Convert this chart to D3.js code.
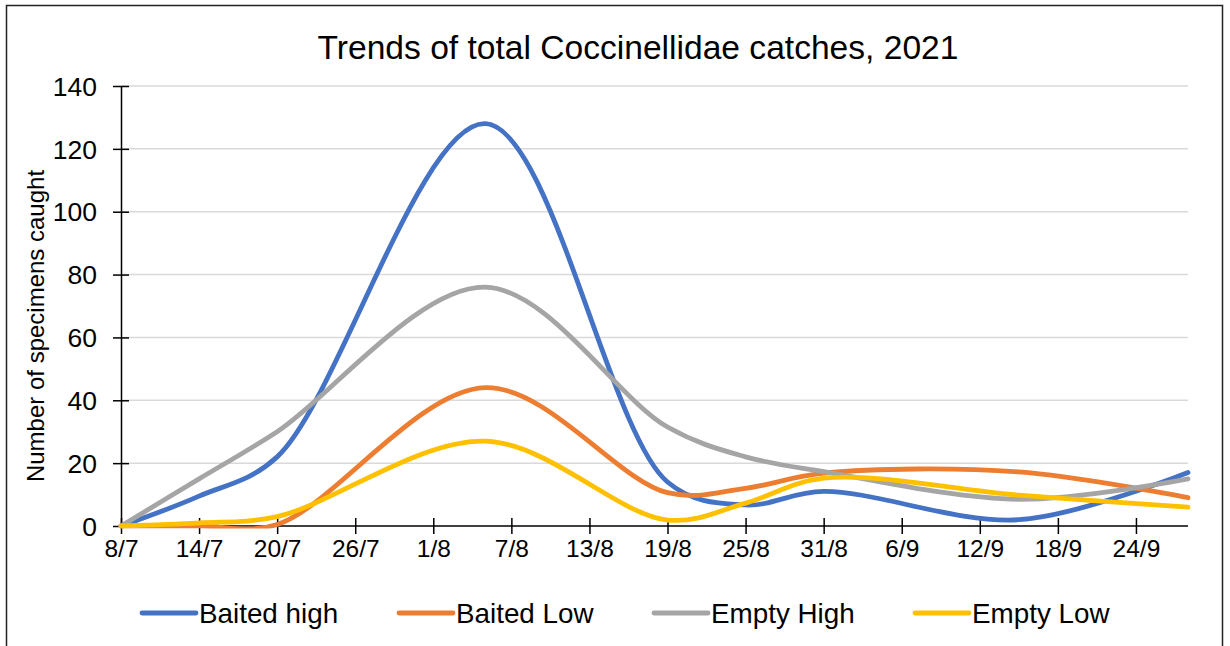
<!DOCTYPE html>
<html>
<head>
<meta charset="utf-8">
<script src="https://cdn.jsdelivr.net/npm/d3@7"></script>
<style>
  html, body { margin: 0; padding: 0; background: #fff; }
  svg { display: block; font-family: Arial, "Liberation Sans", sans-serif; }
</style>
</head>
<body>
<svg id="chart" width="1230" height="646"></svg>
<script>
// ---- data ----
const dates = ["2021-07-08", "2021-07-14", "2021-07-20", "2021-08-05", "2021-08-19", "2021-08-25", "2021-08-31", "2021-09-15", "2021-09-28"];
const baitedHigh = [0, 9.5, 22, 128, 14, 6.7, 11, 2, 17];
const baitedLow  = [0, 0, 0.5, 44, 10.6, 12, 16.8, 17.2, 9];
const emptyHigh  = [0, 15, 30, 76, 31.5, 22, 17.3, 8.5, 15];
const emptyLow   = [0, 1, 3, 27, 1.9, 7.3, 15.2, 9.8, 6];
const seriesNames = ["Baited high", "Baited Low", "Empty High", "Empty Low"];
const xTickDates = ["2021-07-08","2021-07-14","2021-07-20","2021-07-26","2021-08-01","2021-08-07","2021-08-13","2021-08-19","2021-08-25","2021-08-31","2021-09-06","2021-09-12","2021-09-18","2021-09-24"];
const yTicks = [0, 20, 40, 60, 80, 100, 120, 140];
const titleText = "Trends of total Coccinellidae catches, 2021";
const yAxisTitle = "Number of specimens caught";

// ---- layout ----
const colors = ["#4472C4", "#ED7D31", "#A5A5A5", "#FFC000"];
const parse = d3.utcParse("%Y-%m-%d");
const fmt = d3.utcFormat("%-d/%-m");
const svg = d3.select("#chart");

const pLeft = 121, pRight = 1188, pTop = 86, pBottom = 526;
const x = d3.scaleUtc().domain([parse("2021-07-08"), parse("2021-09-28")]).range([pLeft, pRight]);
const y = d3.scaleLinear().domain([0, 140]).range([pBottom, pTop]);

// clip for series (Excel keeps lines inside the plot area)
svg.append("defs").append("clipPath").attr("id", "plotClip")
  .append("rect").attr("x", pLeft - 10).attr("y", pTop - 20)
  .attr("width", pRight - pLeft + 20).attr("height", pBottom - pTop + 22.5);

// outer frame
svg.append("rect").attr("x", 6.5).attr("y", 5.5).attr("width", 1216).attr("height", 660)
  .attr("fill", "none").attr("stroke", "#222").attr("stroke-width", 1.5);

// title
svg.append("text").attr("x", 638).attr("y", 59).attr("text-anchor", "middle")
  .attr("font-size", 33.6).attr("fill", "#000").text(titleText);

// gridlines
svg.append("g").selectAll("line").data(yTicks.filter(d => d > 0)).join("line")
  .attr("x1", pLeft).attr("x2", pRight)
  .attr("y1", d => y(d)).attr("y2", d => y(d))
  .attr("stroke", "#d9d9d9").attr("stroke-width", 1.5);

// y axis
const yAxis = svg.append("g").attr("transform", `translate(${pLeft},0)`)
  .call(d3.axisLeft(y).tickValues(yTicks).tickSize(8).tickSizeOuter(0));
yAxis.select(".domain").attr("stroke", "#000").attr("stroke-width", 1.5);
yAxis.selectAll(".tick line").attr("x1", -8).attr("x2", 8).attr("stroke", "#000").attr("stroke-width", 1.5);
yAxis.selectAll(".tick text").attr("font-size", 26.5).attr("font-family", "Arial, 'Liberation Sans', sans-serif").attr("fill", "#000").attr("x", -24).attr("dy", "0.35em");

// x axis
const xAxis = svg.append("g").attr("transform", `translate(0,${pBottom})`)
  .call(d3.axisBottom(x).tickValues(xTickDates.map(parse)).tickFormat(fmt).tickSize(8).tickSizeOuter(0));
xAxis.select(".domain").attr("stroke", "#000").attr("stroke-width", 1.5).attr("d", `M${pLeft},0H${pRight}`);
xAxis.selectAll(".tick line").attr("y1", -8).attr("y2", 8).attr("stroke", "#000").attr("stroke-width", 1.5);
xAxis.selectAll(".tick text").attr("font-size", 24.5).attr("font-family", "Arial, 'Liberation Sans', sans-serif").attr("fill", "#000").attr("y", 14).attr("dy", "0.71em");

// y axis title
svg.append("text").attr("transform", "translate(44,326) rotate(-90)")
  .attr("text-anchor", "middle").attr("font-size", 24).attr("fill", "#000").text(yAxisTitle);

// lines
const allSeries = [baitedHigh, baitedLow, emptyHigh, emptyLow];
const line = d3.line().x(d => x(d.date)).y(d => y(d.value)).curve(d3.curveCatmullRom.alpha(0.5));
const linesG = svg.append("g").attr("clip-path", "url(#plotClip)");
[0, 1, 2, 3].forEach(i => {
  const pts = dates.map((d, j) => ({ date: parse(d), value: allSeries[i][j] }));
  linesG.append("path").datum(pts).attr("d", line)
    .attr("fill", "none").attr("stroke", colors[i]).attr("stroke-width", 4.8)
    .attr("stroke-linecap", "round").attr("stroke-linejoin", "round");
});

// legend
const legendX = [140, 397, 652, 913];
const legendY = 613;
seriesNames.forEach((name, i) => {
  const g = svg.append("g").attr("transform", `translate(${legendX[i]},${legendY})`);
  g.append("line").attr("x1", 2).attr("x2", 56).attr("y1", 0).attr("y2", 0)
    .attr("stroke", colors[i]).attr("stroke-width", 4.8).attr("stroke-linecap", "round");
  g.append("text").attr("x", 59).attr("y", 0).attr("dy", "0.36em")
    .attr("font-size", 27.8).attr("fill", "#000").text(name);
});
</script>
</body>
</html>
